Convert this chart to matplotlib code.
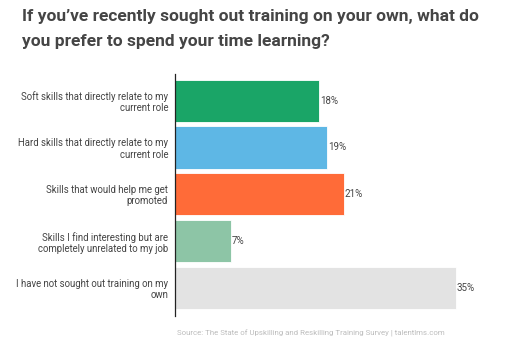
import matplotlib
matplotlib.use("Agg")
import matplotlib.pyplot as plt

plt.rcParams['font.family'] = ['Roboto', 'DejaVu Sans']

# Survey answers, top to bottom
categories = [
    "Soft skills that directly relate to my\ncurrent role",
    "Hard skills that directly relate to my\ncurrent role",
    "Skills that would help me get\npromoted",
    "Skills I find interesting but are\ncompletely unrelated to my job",
    "I have not sought out training on my\nown",
]
values = [18, 19, 21, 7, 35]
colors = ["#1aa567", "#5eb7e5", "#ff6b38", "#8dc5a6", "#e3e3e3"]

fig = plt.figure(figsize=(5.12, 3.49), dpi=100)
ax = fig.add_axes([175 / 512, 1 - 316 / 349, 321 / 512, 242 / 349])

pos = list(range(len(values)))
bars = ax.barh(pos, values, height=0.9, color=colors, edgecolor="white", linewidth=0.6)
ax.set_xlim(0, 40)
ax.set_ylim(4.6, -0.57)

for b, v in zip(bars, values):
    ax.text(b.get_width() + 0.1, b.get_y() + b.get_height() / 2, f"{v}%",
            va="center", ha="left", fontsize=7, color="#444444")

ax.set_yticks(pos)
ax.set_yticklabels(categories, fontsize=6.9, color="#444444", linespacing=1.15)
ax.tick_params(axis="y", length=0, pad=5)
ax.set_xticks([])
for s in ["top", "right", "bottom"]:
    ax.spines[s].set_visible(False)
ax.spines["left"].set_color("#222222")
ax.spines["left"].set_linewidth(0.9)

fig.text(22 / 512, 1 - 9 / 349,
         "If you\u2019ve recently sought out training on your own, what do\nyou prefer to spend your time learning?",
         ha="left", va="top", fontsize=12.5, fontweight="bold", color="#454545",
         linespacing=1.85)

fig.text(177 / 512, 1 - 333 / 349,
         "Source: The State of Upskilling and Reskilling Training Survey | talentlms.com",
         ha="left", va="center", fontsize=5.7, color="#bdbdbd")

fig.savefig("out.png", dpi=100, facecolor="white")
